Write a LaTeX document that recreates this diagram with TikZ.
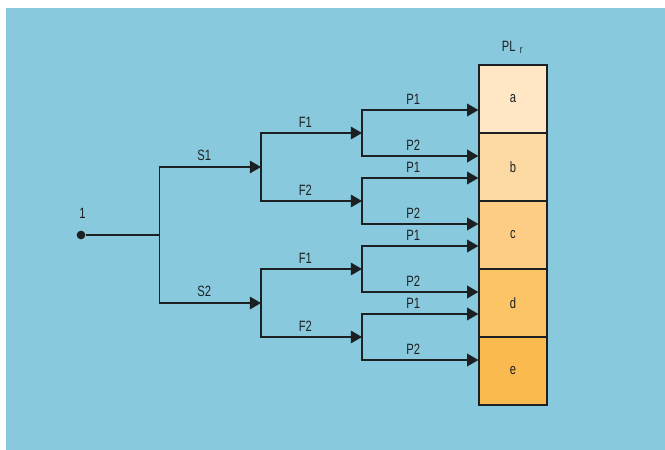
\documentclass[tikz,border=0pt]{standalone}
\usepackage{fontspec}
\setmainfont{Liberation Sans}[FakeStretch=0.75]
\usetikzlibrary{arrows.meta}

\definecolor{skyback}{RGB}{136,201,221}
\definecolor{linecol}{RGB}{28,32,34}
\definecolor{plA}{RGB}{255,230,196}
\definecolor{plB}{RGB}{253,217,163}
\definecolor{plC}{RGB}{253,205,133}
\definecolor{plD}{RGB}{252,196,101}
\definecolor{plE}{RGB}{251,186,79}
\newcommand\lblfont{\fontsize{11.2}{13}\selectfont}

\begin{document}
\begin{tikzpicture}[x=0.75pt, y=-0.75pt,
  wire/.style={draw=linecol, line width=1pt},
  arr/.style={wire, -{Triangle[length=8.4pt,width=9.5pt]}},
  lbl/.style={above, inner xsep=0pt, inner ysep=4pt, font=\lblfont, text=linecol, pos=0.72},
  cell/.style={draw=linecol, line width=1pt, minimum width=51pt, minimum height=51pt, inner sep=0pt, font=\lblfont, text=linecol}]
  \useasboundingbox (0,0) rectangle (665,450);
  \fill[white]   (0,0) rectangle (665,450);
  \fill[skyback] (6,8) rectangle (665,450);

  \node[cell, fill=plA] (a) at (513,99)  {a};
  \node[cell, fill=plB] (b) at (513,167) {b};
  \node[cell, fill=plC] (c) at (513,235) {c};
  \node[cell, fill=plD] (d) at (513,303) {d};
  \node[cell, fill=plE] (e) at (513,371) {e};
  \node[anchor=base west, font=\lblfont, text=linecol, inner sep=0pt] (pl) at (501.7,51)
    {PL\hspace{3.2pt}\raisebox{-2.2pt}{\fontsize{8.2}{9}\selectfont r}};

  \node[circle, fill=linecol, inner sep=0pt, minimum size=6.5pt] (root) at (81,235) {};
  \node[font=\lblfont, text=linecol] (one) at (82.5,213) {1};

  \coordinate (j0) at (159.5,235);
  \coordinate (s1) at (261,167);
  \coordinate (s2) at (261,303);
  \coordinate (f1) at (362,133);
  \coordinate (f2) at (362,201);
  \coordinate (f3) at (362,269);
  \coordinate (f4) at (362,337);
  \coordinate (p1) at (a.west |- 0,110);
  \coordinate (p2) at (a.west |- 0,156);
  \coordinate (p3) at (a.west |- 0,178);
  \coordinate (p4) at (a.west |- 0,224);
  \coordinate (p5) at (a.west |- 0,246);
  \coordinate (p6) at (a.west |- 0,292);
  \coordinate (p7) at (a.west |- 0,314);
  \coordinate (p8) at (a.west |- 0,360);

  \draw[wire] (root) -- (j0);
  \draw[arr] (j0) |- node[lbl] {S1} (s1);
  \draw[arr] (j0) |- node[lbl] {S2} (s2);

  \draw[arr] (s1) |- node[lbl] {F1} (f1);
  \draw[arr] (s1) |- node[lbl] {F2} (f2);
  \draw[arr] (s2) |- node[lbl] {F1} (f3);
  \draw[arr] (s2) |- node[lbl] {F2} (f4);

  \draw[arr] (f1) |- node[lbl] {P1} (p1);
  \draw[arr] (f1) |- node[lbl] {P2} (p2);
  \draw[arr] (f2) |- node[lbl] {P1} (p3);
  \draw[arr] (f2) |- node[lbl] {P2} (p4);
  \draw[arr] (f3) |- node[lbl] {P1} (p5);
  \draw[arr] (f3) |- node[lbl] {P2} (p6);
  \draw[arr] (f4) |- node[lbl] {P1} (p7);
  \draw[arr] (f4) |- node[lbl] {P2} (p8);
\end{tikzpicture}
\end{document}
